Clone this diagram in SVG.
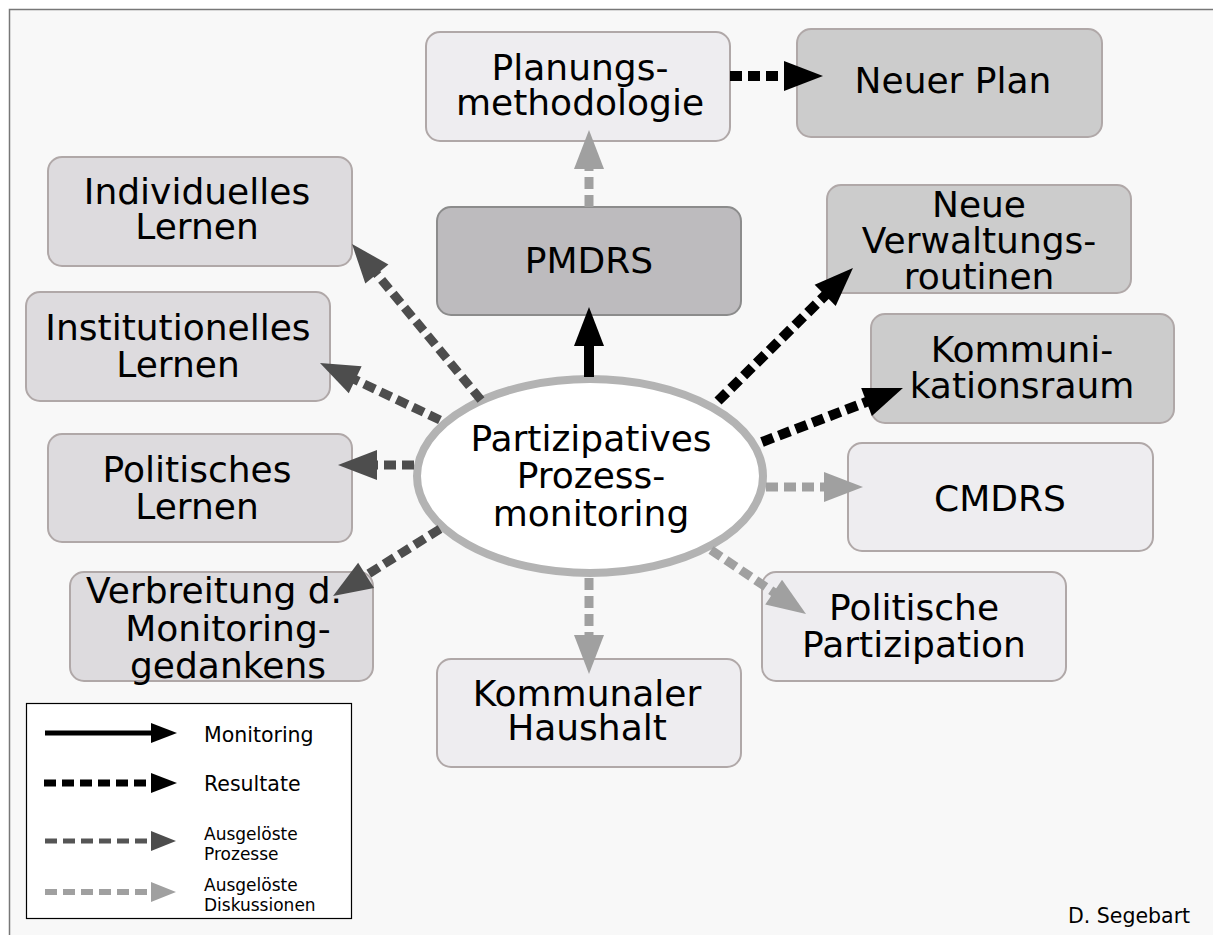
<svg xmlns="http://www.w3.org/2000/svg" width="1213" height="935" viewBox="0 0 1213 935">
  <defs>
    <style>
      text { font-family: "DejaVu Sans", Verdana, sans-serif; fill: #000; text-anchor: middle; }
      .big { font-size: 36px; }
      .small { font-size: 20.5px; text-anchor: start; }
      .tiny { font-size: 17px; text-anchor: start; }
      .box { stroke: #b0a8a8; stroke-width: 2; }
      .c1 { fill: #dddbde; }
      .c2 { fill: #eeedf0; }
      .c3 { fill: #cccccc; }
      .c4 { fill: #bdbbbe; stroke: #8c8c8c; }
      .mon { stroke: #000; stroke-width: 10; fill: none; }
      .res { stroke: #000; stroke-width: 10; stroke-dasharray: 12 6; fill: none; }
      .pro { stroke: #4d4d4d; stroke-width: 9; stroke-dasharray: 12 6; fill: none; }
      .dis { stroke: #a0a0a0; stroke-width: 9; stroke-dasharray: 12 6; fill: none; }
    </style>
    <marker id="aBlack" markerUnits="userSpaceOnUse" markerWidth="40" markerHeight="32" refX="0" refY="15" orient="auto" overflow="visible">
      <path d="M-2,0 L37,15 L-2,30 Z" fill="#000"/>
    </marker>
    <marker id="aDark" markerUnits="userSpaceOnUse" markerWidth="40" markerHeight="32" refX="0" refY="15" orient="auto" overflow="visible">
      <path d="M-2,0 L37,15 L-2,30 Z" fill="#4d4d4d"/>
    </marker>
    <marker id="aLight" markerUnits="userSpaceOnUse" markerWidth="40" markerHeight="32" refX="0" refY="15" orient="auto" overflow="visible">
      <path d="M-2,0 L37,15 L-2,30 Z" fill="#a0a0a0"/>
    </marker>
    <marker id="lBlack" markerUnits="userSpaceOnUse" markerWidth="26" markerHeight="22" refX="0" refY="10" orient="auto" overflow="visible">
      <path d="M-1,0 L25,10 L-1,20 Z" fill="#000"/>
    </marker>
    <marker id="lDark" markerUnits="userSpaceOnUse" markerWidth="26" markerHeight="22" refX="0" refY="10" orient="auto" overflow="visible">
      <path d="M-1,0 L24,10 L-1,20 Z" fill="#4d4d4d"/>
    </marker>
    <marker id="lLight" markerUnits="userSpaceOnUse" markerWidth="26" markerHeight="22" refX="0" refY="10" orient="auto" overflow="visible">
      <path d="M-1,0 L24,10 L-1,20 Z" fill="#a0a0a0"/>
    </marker>
  </defs>

  <!-- page background and frame -->
  <rect x="0" y="0" width="1213" height="935" fill="#ffffff"/>
  <rect x="9.5" y="9.5" width="1215" height="940" fill="#f8f8f8" stroke="#777" stroke-width="1.5"/>

  <!-- nodes -->
  <g id="planung">
    <rect class="box c2" x="426" y="32" width="304" height="109" rx="14"/>
    <text class="big" x="580" y="80">Planungs-</text>
    <text class="big" x="580" y="115">methodologie</text>
  </g>
  <g id="neuer-plan">
    <rect class="box c3" x="797" y="29" width="305" height="108" rx="14"/>
    <text class="big" x="953" y="93">Neuer Plan</text>
  </g>
  <g id="pmdrs">
    <rect class="box c4" x="437" y="207" width="304" height="108" rx="14"/>
    <text class="big" x="589" y="273">PMDRS</text>
  </g>
  <g id="individuelles">
    <rect class="box c1" x="48" y="157" width="304" height="109" rx="14"/>
    <text class="big" x="197" y="204">Individuelles</text>
    <text class="big" x="197" y="239">Lernen</text>
  </g>
  <g id="institutionelles">
    <rect class="box c1" x="26" y="292" width="304" height="109" rx="14"/>
    <text class="big" x="178" y="340">Institutionelles</text>
    <text class="big" x="178" y="377">Lernen</text>
  </g>
  <g id="politisches-lernen">
    <rect class="box c1" x="48" y="434" width="304" height="108" rx="14"/>
    <text class="big" x="197" y="482">Politisches</text>
    <text class="big" x="197" y="519">Lernen</text>
  </g>
  <g id="verbreitung">
    <rect class="box c1" x="70" y="572" width="303" height="109" rx="14"/>
    <text class="big" x="214" y="603">Verbreitung d.</text>
    <text class="big" x="228" y="641">Monitoring-</text>
    <text class="big" x="228" y="678">gedankens</text>
  </g>
  <g id="verwaltung">
    <rect class="box c3" x="827" y="185" width="304" height="108" rx="14"/>
    <text class="big" x="979" y="217">Neue</text>
    <text class="big" x="979" y="253">Verwaltungs-</text>
    <text class="big" x="979" y="289">routinen</text>
  </g>
  <g id="kommunikation">
    <rect class="box c3" x="871" y="314" width="303" height="109" rx="14"/>
    <text class="big" x="1022" y="362">Kommuni-</text>
    <text class="big" x="1022" y="398">kationsraum</text>
  </g>
  <g id="cmdrs">
    <rect class="box c2" x="848" y="443" width="305" height="108" rx="14"/>
    <text class="big" x="1000" y="511">CMDRS</text>
  </g>
  <g id="partizipation">
    <rect class="box c2" x="762" y="572" width="304" height="109" rx="14"/>
    <text class="big" x="914" y="620">Politische</text>
    <text class="big" x="914" y="657">Partizipation</text>
  </g>
  <g id="haushalt">
    <rect class="box c2" x="437" y="659" width="304" height="108" rx="14"/>
    <text class="big" x="587" y="706">Kommunaler</text>
    <text class="big" x="587" y="740">Haushalt</text>
  </g>
  <g id="monitoring">
    <ellipse cx="590" cy="476" rx="173" ry="97" fill="#ffffff" stroke="#b3b3b3" stroke-width="8"/>
    <text class="big" x="591" y="451">Partizipatives</text>
    <text class="big" x="591" y="488">Prozess-</text>
    <text class="big" x="591" y="526">monitoring</text>
  </g>

  <!-- connectors, drawn over the boxes -->
  <g id="connectors">
    <line class="dis" x1="589" y1="207" x2="589" y2="167" marker-end="url(#aLight)"/>
    <line class="res" x1="730" y1="76" x2="786" y2="76" marker-end="url(#aBlack)"/>
    <line class="mon" x1="589" y1="377" x2="589" y2="344" marker-end="url(#aBlack)"/>
    <line class="pro" x1="481" y1="400" x2="375.6" y2="272.5" marker-end="url(#aDark)"/>
    <line class="pro" x1="440" y1="420" x2="353.4" y2="378.9" marker-end="url(#aDark)"/>
    <line class="pro" x1="414" y1="465" x2="375" y2="465" marker-end="url(#aDark)"/>
    <line class="pro" x1="440" y1="529" x2="364.4" y2="576.4" marker-end="url(#aDark)"/>
    <line class="res" x1="718" y1="401" x2="826.6" y2="294" marker-end="url(#aBlack)"/>
    <line class="res" x1="762" y1="442" x2="868.4" y2="401.2" marker-end="url(#aBlack)"/>
    <line class="dis" x1="766" y1="487" x2="826" y2="487" marker-end="url(#aLight)"/>
    <line class="dis" x1="711" y1="550" x2="775.3" y2="593.3" marker-end="url(#aLight)"/>
    <line class="dis" x1="589" y1="578" x2="589" y2="637" marker-end="url(#aLight)"/>
  </g>

  <!-- legend -->
  <g id="legend">
    <rect x="26.5" y="703.5" width="325" height="215" fill="#ffffff" stroke="#000" stroke-width="1.2"/>
    <line x1="45" y1="733" x2="152" y2="733" stroke="#000" stroke-width="5" marker-end="url(#lBlack)"/>
    <text class="small" x="204" y="742">Monitoring</text>
    <line x1="44" y1="783" x2="152" y2="783" stroke="#000" stroke-width="7" stroke-dasharray="12 6" marker-end="url(#lBlack)"/>
    <text class="small" x="204" y="791">Resultate</text>
    <line x1="45" y1="841" x2="152" y2="841" stroke="#555" stroke-width="5" stroke-dasharray="12 6" marker-end="url(#lDark)"/>
    <text class="tiny" x="204" y="840">Ausgelöste</text>
    <text class="tiny" x="204" y="860">Prozesse</text>
    <line x1="45" y1="892" x2="152" y2="892" stroke="#a0a0a0" stroke-width="6" stroke-dasharray="12 6" marker-end="url(#lLight)"/>
    <text class="tiny" x="204" y="891">Ausgelöste</text>
    <text class="tiny" x="204" y="911">Diskussionen</text>
  </g>

  <text class="small" x="1068" y="923">D. Segebart</text>
</svg>
